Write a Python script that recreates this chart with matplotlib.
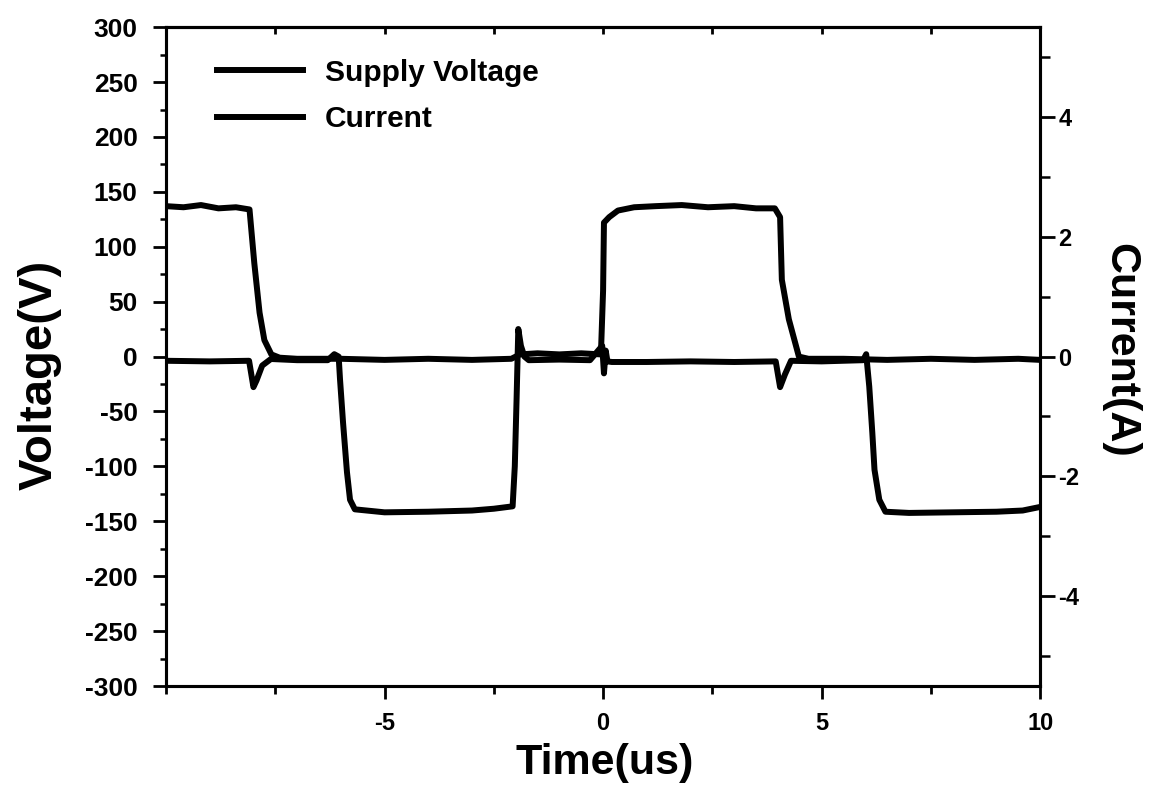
import matplotlib.pyplot as plt
from matplotlib.ticker import MultipleLocator

plt.rcParams['font.family'] = ['Liberation Sans', 'DejaVu Sans']
plt.rcParams['font.weight'] = 'bold'
plt.rcParams['axes.unicode_minus'] = False

# Supply voltage trace (V)
t_volt = [-10.0, -9.6, -9.2, -8.8, -8.4, -8.09, -7.98, -7.86, -7.75, -7.59, -7.4,
          -7.0, -6.0, -5.0, -4.0, -3.0, -2.1, -1.9, -1.5, -1.0, -0.5, -0.05,
          0.0, 0.02, 0.14, 0.34, 0.71, 1.2, 1.8, 2.4, 3.0, 3.5, 3.93, 4.05,
          4.09, 4.25, 4.48, 4.7, 5.5, 6.5, 7.5, 8.5, 9.5, 10.0]
volt = [137, 136, 138, 135, 136, 134, 85, 40, 15, 2, -1,
        -2, -2, -3, -2, -3, -2, 2, 3, 2, 3, 2,
        60, 122, 127, 133, 136, 137, 138, 136, 137, 135, 135, 127,
        70, 34, 0, -2, -2, -3, -2, -3, -2, -3]

# Current trace (A)
t_curr = [-10.0, -9.0, -8.1, -8.0, -7.93, -7.8, -7.6, -7.0, -6.3, -6.15, -6.05,
          -6.02, -5.95, -5.86, -5.79, -5.68, -5.0, -4.0, -3.0, -2.5, -2.07,
          -2.02, -1.98, -1.94, -1.88, -1.8, -1.7, -1.0, -0.3, -0.02, 0.02,
          0.06, 0.1, 0.2, 1.0, 2.0, 3.0, 3.95, 4.05, 4.16, 4.3, 5.0, 5.95,
          6.02, 6.09, 6.16, 6.21, 6.32, 6.46, 7.0, 8.0, 9.0, 9.6, 10.0]
curr = [-0.07, -0.08, -0.07, -0.51, -0.40, -0.15, -0.04, -0.06, -0.06, 0.04, 0.0,
        -0.37, -1.10, -1.93, -2.39, -2.55, -2.60, -2.59, -2.57, -2.54, -2.50,
        -1.83, -0.73, 0.46, 0.18, 0.0, -0.06, -0.05, -0.06, 0.18, -0.28,
        0.10, -0.08, -0.09, -0.09, -0.08, -0.09, -0.08, -0.51, -0.30, -0.07, -0.08, -0.06,
        0.04, -0.50, -1.27, -1.89, -2.39, -2.59, -2.61, -2.60, -2.59, -2.57, -2.51]

fig = plt.figure(figsize=(11.57, 7.99), dpi=100)
ax = fig.add_axes([0.1435, 0.1414, 0.7555, 0.8246])
ax2 = ax.twinx()

l1, = ax.plot(t_volt, volt, color='black', lw=4.3, solid_joinstyle='round',
              label='Supply Voltage')
l2, = ax2.plot(t_curr, curr, color='black', lw=4.3, solid_joinstyle='round',
               label='Current')

ax.set_xlim(-10, 10)
ax.set_ylim(-300, 300)
ax2.set_ylim(-5.5, 5.5)

ax.set_xticks([-5, 0, 5, 10])
ax.xaxis.set_minor_locator(MultipleLocator(2.5))
ax.yaxis.set_major_locator(MultipleLocator(50))
ax.yaxis.set_minor_locator(MultipleLocator(25))
ax2.yaxis.set_major_locator(MultipleLocator(2))
ax2.yaxis.set_minor_locator(MultipleLocator(1))

for a in (ax, ax2):
    for s in a.spines.values():
        s.set_linewidth(2.2)

ax.tick_params(axis='x', which='major', length=9.5, width=2, labelsize=17, pad=9)
ax.tick_params(axis='x', which='minor', length=6, width=2)
ax.tick_params(axis='y', which='major', length=9.5, width=2, labelsize=19, pad=11)
ax.tick_params(axis='y', which='minor', length=4, width=1.8)
ax2.tick_params(axis='y', which='major', length=11, width=2, labelsize=17, pad=2)
ax2.tick_params(axis='y', which='minor', length=7, width=1.8)

# small inward ticks along the top edge
top = ax.secondary_xaxis('top')
top.set_xticks([-5, 0, 5, 10])
top.xaxis.set_minor_locator(MultipleLocator(2.5))
top.tick_params(which='both', direction='in', length=5, width=2, labeltop=False)
top.spines['top'].set_linewidth(2.2)

ax.set_xlabel('Time(us)', fontsize=31, fontweight='bold')
ax.xaxis.set_label_coords(0.502, -0.087)
ax.set_ylabel('Voltage(V)', fontsize=34, fontweight='bold')
ax.yaxis.set_label_coords(-0.119, 0.472)
ax2.set_ylabel('Current(A)', fontsize=31, fontweight='bold', rotation=270)
ax2.yaxis.set_label_coords(1.114, 0.51)

ax.legend(handles=[l1, l2], loc='upper left', frameon=False, fontsize=21.5,
          handlelength=2.88, handletextpad=0.73, labelspacing=0.62,
          bbox_to_anchor=(0.028, 0.993))

fig.savefig('out.png', dpi=100)
plt.close(fig)
